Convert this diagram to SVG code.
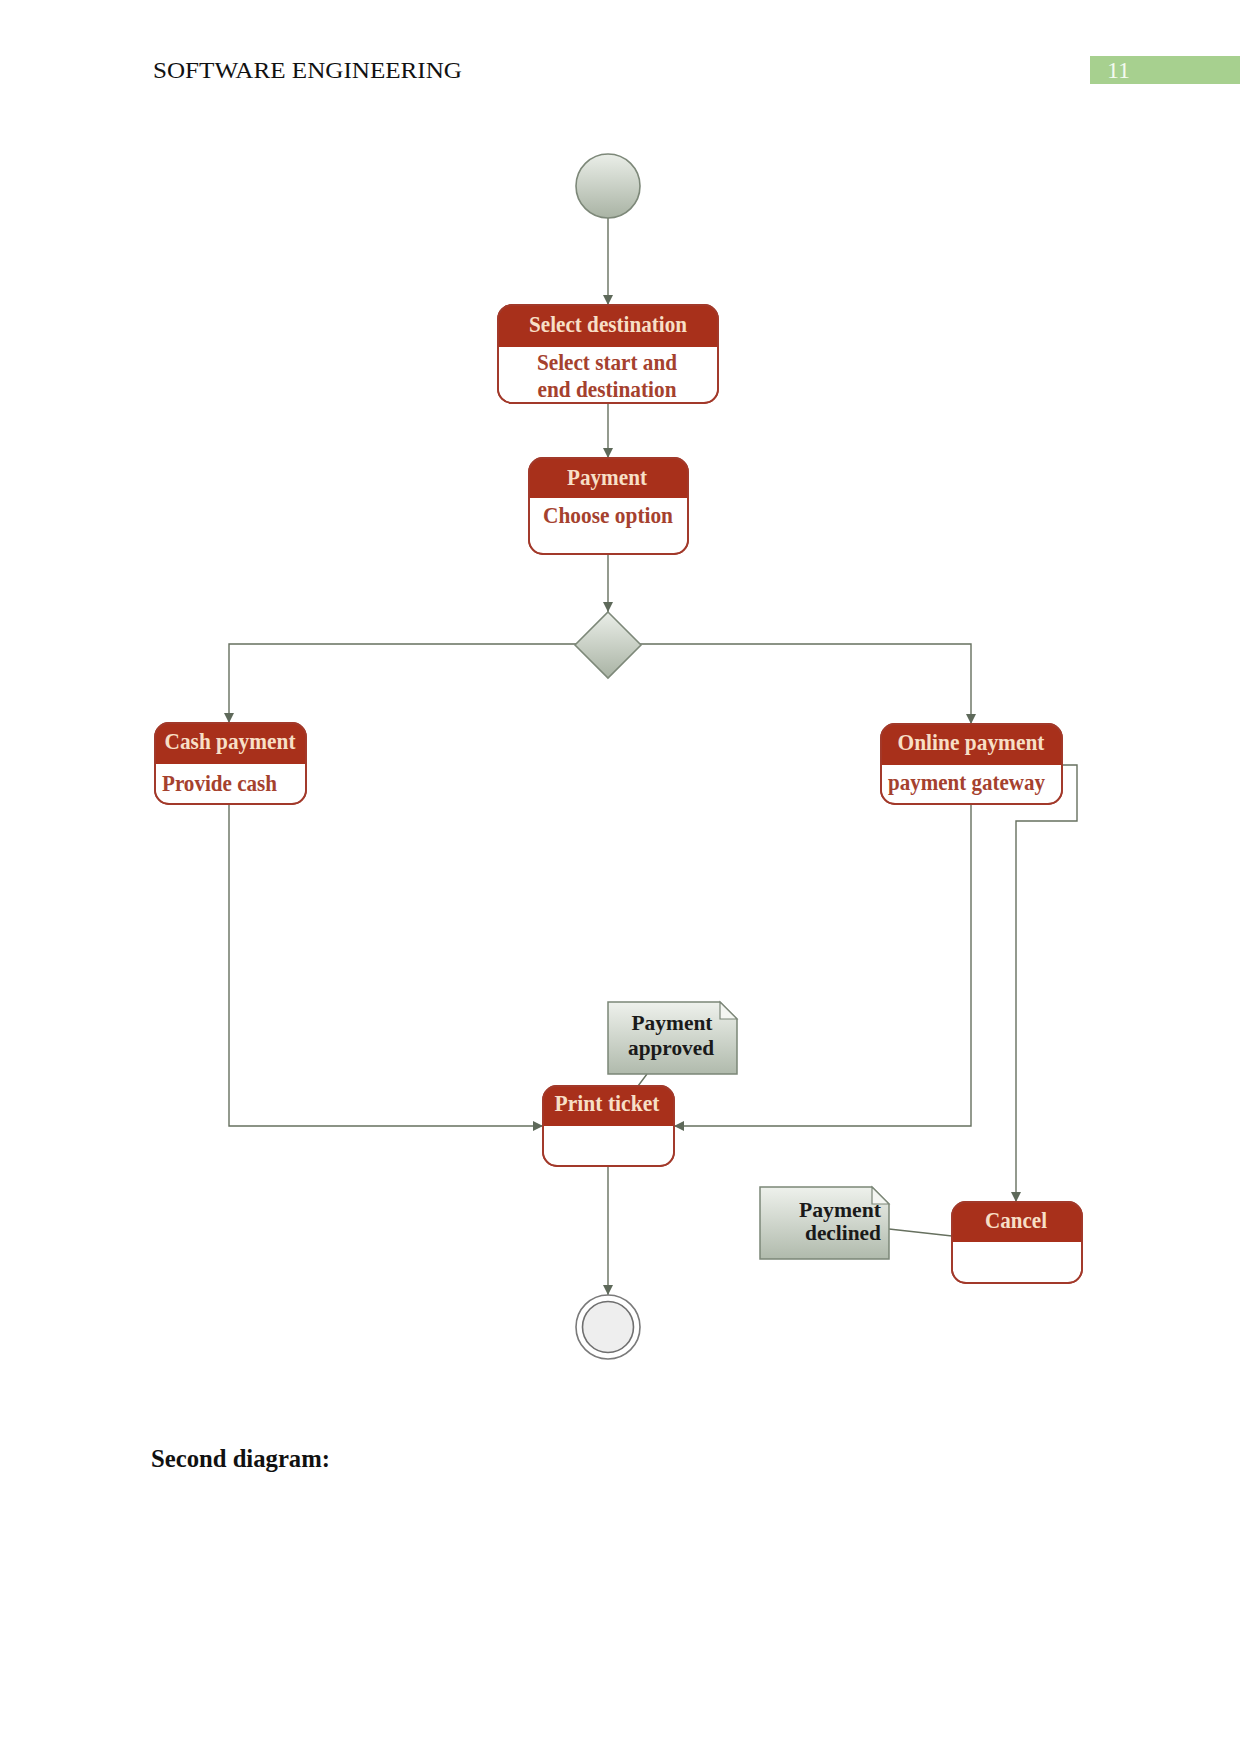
<svg xmlns="http://www.w3.org/2000/svg" width="1241" height="1754" viewBox="0 0 1241 1754">
<defs>
<linearGradient id="gGrey" x1="0" y1="0" x2="0" y2="1">
<stop offset="0" stop-color="#eaeee8"/>
<stop offset="1" stop-color="#a9b3a4"/>
</linearGradient>
<linearGradient id="gNote" x1="0" y1="0" x2="0" y2="1">
<stop offset="0" stop-color="#eef1ec"/>
<stop offset="1" stop-color="#b0baac"/>
</linearGradient>
<marker id="arr" markerWidth="11" markerHeight="11" refX="10" refY="5" orient="auto" markerUnits="userSpaceOnUse">
<path d="M0,0 L10,5 L0,10 Z" fill="#5e695a"/>
</marker>
<style>
.page{font-family:"Liberation Serif","Times New Roman",serif;fill:#111}
.box{fill:#ffffff;stroke:#a2392a;stroke-width:1.8}
.hdr{fill:#a8301b}
.ht{font-family:"Liberation Serif","Times New Roman",serif;font-weight:bold;font-size:22.5px;fill:#f7dfc6;text-anchor:middle}
.bt{font-family:"Liberation Serif","Times New Roman",serif;font-weight:bold;font-size:22.5px;fill:#a5412e}
.nt{font-family:"Liberation Serif","Times New Roman",serif;font-weight:bold;font-size:22px;fill:#1a1a1a}
.note{fill:url(#gNote);stroke:#7b8677;stroke-width:1.5}
.fold{fill:#f4f6f2;stroke:#7b8677;stroke-width:1.2}
.con{fill:none;stroke:#66705f;stroke-width:1.4}
.arrow{marker-end:url(#arr)}
</style>
</defs>
<rect width="1241" height="1754" fill="#ffffff"/>

<g id="page-header">
<text class="page" x="153" y="78" font-size="24" textLength="309" lengthAdjust="spacingAndGlyphs">SOFTWARE ENGINEERING</text>
<rect x="1090" y="56" width="150" height="28" fill="#a7d08f"/>
<text x="1107" y="78" font-family="Liberation Serif, serif" font-size="24" fill="#f3faee">11</text>
</g>

<g id="connectors">
<path class="con arrow" d="M608,218 V305"/>
<path class="con arrow" d="M608,403 V458"/>
<path class="con arrow" d="M608,555 V612"/>
<path class="con arrow" d="M576,644 H229 V723"/>
<path class="con arrow" d="M640,644 H971 V724"/>
<path class="con arrow" d="M229,804 V1126 H543"/>
<path class="con arrow" d="M971,804 V1126 H674"/>
<path class="con arrow" d="M1062,765 H1077 V821 H1016 V1202"/>
<path class="con arrow" d="M608,1166 V1295"/>
<path class="con" d="M647,1074 L638,1086"/>
<path class="con" d="M889,1229 L952,1236"/>
</g>

<g id="start">
<circle cx="608" cy="186" r="32" fill="url(#gGrey)" stroke="#7d8879" stroke-width="1.6"/>
</g>

<g id="select-destination">
<rect class="box" x="498" y="305" width="220" height="98" rx="14"/>
<path class="hdr" d="M498,347 V319 A14,14 0 0 1 512,305 H704 A14,14 0 0 1 718,319 V347 Z"/>
<rect x="498" y="305" width="220" height="98" rx="14" fill="none" stroke="#a2392a" stroke-width="1.8"/>
<text class="ht" x="608" y="332" textLength="158" lengthAdjust="spacingAndGlyphs">Select destination</text>
<text class="bt" x="607" y="370" text-anchor="middle" textLength="140" lengthAdjust="spacingAndGlyphs">Select start and</text>
<text class="bt" x="607" y="397" text-anchor="middle" textLength="139" lengthAdjust="spacingAndGlyphs">end destination</text>
</g>

<g id="payment">
<rect class="box" x="529" y="458" width="159" height="96" rx="14"/>
<path class="hdr" d="M529,498 V472 A14,14 0 0 1 543,458 H674 A14,14 0 0 1 688,472 V498 Z"/>
<rect x="529" y="458" width="159" height="96" rx="14" fill="none" stroke="#a2392a" stroke-width="1.8"/>
<text class="ht" x="607" y="485" textLength="80" lengthAdjust="spacingAndGlyphs">Payment</text>
<text class="bt" x="608" y="523" text-anchor="middle" textLength="130" lengthAdjust="spacingAndGlyphs">Choose option</text>
</g>

<g id="decision">
<path d="M608,612 L641,645 L608,678 L575,645 Z" fill="url(#gGrey)" stroke="#7d8879" stroke-width="1.6"/>
</g>

<g id="cash-payment">
<rect class="box" x="155" y="723" width="151" height="81" rx="14"/>
<path class="hdr" d="M155,764 V737 A14,14 0 0 1 169,723 H292 A14,14 0 0 1 306,737 V764 Z"/>
<rect x="155" y="723" width="151" height="81" rx="14" fill="none" stroke="#a2392a" stroke-width="1.8"/>
<text class="ht" x="230" y="749" textLength="131" lengthAdjust="spacingAndGlyphs">Cash payment</text>
<text class="bt" x="162" y="791" textLength="115" lengthAdjust="spacingAndGlyphs">Provide cash</text>
</g>

<g id="online-payment">
<rect class="box" x="881" y="724" width="181" height="80" rx="14"/>
<path class="hdr" d="M881,765 V738 A14,14 0 0 1 895,724 H1048 A14,14 0 0 1 1062,738 V765 Z"/>
<rect x="881" y="724" width="181" height="80" rx="14" fill="none" stroke="#a2392a" stroke-width="1.8"/>
<text class="ht" x="971" y="750" textLength="147" lengthAdjust="spacingAndGlyphs">Online payment</text>
<text class="bt" x="888" y="790" textLength="157" lengthAdjust="spacingAndGlyphs">payment gateway</text>
</g>

<g id="note-approved">
<path class="note" d="M608,1002 H720 L737,1019 V1074 H608 Z"/>
<path class="fold" d="M720,1002 V1019 H737 Z"/>
<text class="nt" x="672" y="1030" text-anchor="middle" textLength="81" lengthAdjust="spacingAndGlyphs">Payment</text>
<text class="nt" x="671" y="1055" text-anchor="middle" textLength="86" lengthAdjust="spacingAndGlyphs">approved</text>
</g>

<g id="print-ticket">
<rect class="box" x="543" y="1086" width="131" height="80" rx="14"/>
<path class="hdr" d="M543,1126 V1100 A14,14 0 0 1 557,1086 H660 A14,14 0 0 1 674,1100 V1126 Z"/>
<rect x="543" y="1086" width="131" height="80" rx="14" fill="none" stroke="#a2392a" stroke-width="1.8"/>
<text class="ht" x="607" y="1111" textLength="105" lengthAdjust="spacingAndGlyphs">Print ticket</text>
</g>

<g id="note-declined">
<path class="note" d="M760,1187 H872 L889,1204 V1259 H760 Z"/>
<path class="fold" d="M872,1187 V1204 H889 Z"/>
<text class="nt" x="881" y="1217" text-anchor="end" textLength="82" lengthAdjust="spacingAndGlyphs">Payment</text>
<text class="nt" x="881" y="1240" text-anchor="end" textLength="76" lengthAdjust="spacingAndGlyphs">declined</text>
</g>

<g id="cancel">
<rect class="box" x="952" y="1202" width="130" height="81" rx="14"/>
<path class="hdr" d="M952,1242 V1216 A14,14 0 0 1 966,1202 H1068 A14,14 0 0 1 1082,1216 V1242 Z"/>
<rect x="952" y="1202" width="130" height="81" rx="14" fill="none" stroke="#a2392a" stroke-width="1.8"/>
<text class="ht" x="1016" y="1228" textLength="62" lengthAdjust="spacingAndGlyphs">Cancel</text>
</g>

<g id="end">
<circle cx="608" cy="1327" r="32" fill="#ffffff" stroke="#7a7a7a" stroke-width="1.6"/>
<circle cx="608" cy="1327" r="25.5" fill="#eeeeee" stroke="#6f6f6f" stroke-width="1.6"/>
</g>

<g id="caption">
<text class="page" x="151" y="1467" font-size="24.5" font-weight="bold" textLength="179" lengthAdjust="spacingAndGlyphs">Second diagram:</text>
</g>
</svg>
